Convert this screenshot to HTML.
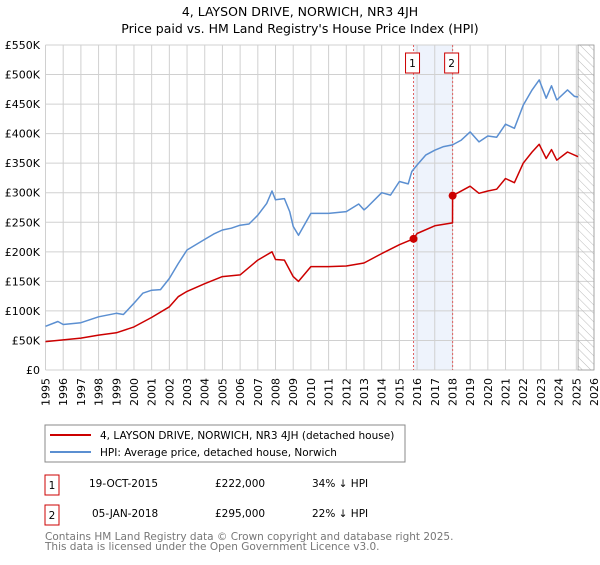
<!DOCTYPE html>
<html><head><meta charset="utf-8"><style>
body{margin:0;background:#fff;font-family:"Liberation Sans","DejaVu Sans",sans-serif}
svg text{font-family:"DejaVu Sans","Liberation Sans",sans-serif}
</style></head><body>
<svg id="c" width="600" height="560" xmlns="http://www.w3.org/2000/svg">
<text x="300" y="16" text-anchor="middle" font-size="12.5">4, LAYSON DRIVE, NORWICH, NR3 4JH</text>
<text x="300" y="33" text-anchor="middle" font-size="12.5">Price paid vs. HM Land Registry's House Price Index (HPI)</text>
<g id="plot"></g>
<rect x="45" y="425" width="360" height="37" fill="#fff" stroke="#888"/>
<line x1="50" y1="435" x2="91" y2="435" stroke="#cc0000" stroke-width="2"/>
<text x="100" y="439" font-size="10.5">4, LAYSON DRIVE, NORWICH, NR3 4JH (detached house)</text>
<line x1="50" y1="452" x2="91" y2="452" stroke="#5b8fd1" stroke-width="2"/>
<text x="100" y="456" font-size="10.5">HPI: Average price, detached house, Norwich</text>
<g font-size="10.5">
<rect x="45" y="475" width="14" height="20" fill="#fff" stroke="#cc0000"/>
<text x="52" y="489" text-anchor="middle">1</text>
<text x="89" y="487">19-OCT-2015</text><text x="215" y="487">£222,000</text><text x="312" y="487">34% ↓ HPI</text>
<rect x="45" y="505" width="14" height="20" fill="#fff" stroke="#cc0000"/>
<text x="52" y="519" text-anchor="middle">2</text>
<text x="92" y="517">05-JAN-2018</text><text x="215" y="517">£295,000</text><text x="312" y="517">22% ↓ HPI</text>
</g>
<text x="45" y="540" font-size="10.5" fill="#777">Contains HM Land Registry data © Crown copyright and database right 2025.</text>
<text x="45" y="550" font-size="10.5" fill="#777">This data is licensed under the Open Government Licence v3.0.</text>
</svg>
<script>
const hpiYears=[1995,1995.7,1996,1997,1998,1999,1999.4,2000,2000.5,2001,2001.5,2002,2002.5,2003,2004,2004.5,2005,2005.5,2006,2006.5,2007,2007.5,2007.8,2008,2008.5,2008.8,2009,2009.3,2010,2011,2012,2012.7,2013,2013.2,2014,2014.5,2015,2015.5,2015.7,2016,2016.5,2017,2017.5,2018,2018.5,2019,2019.5,2020,2020.5,2021,2021.5,2022,2022.5,2022.9,2023.3,2023.6,2023.9,2024.5,2024.9,2025.1];
const hpiValues=[74,82,77,80,90,96,94,113,130,135,136,155,180,203,221,230,237,240,245,247,262,282,303,288,290,268,243,228,265,265,268,281,271,276,300,296,319,315,336,347,364,372,378,381,389,403,386,396,394,416,409,448,474,491,460,481,457,474,463,462];
const ppYears=[1995,1996,1997,1998,1999,2000,2001,2002,2002.5,2003,2004,2005,2006,2007,2007.8,2008,2008.5,2009,2009.3,2010,2011,2012,2013,2014,2015,2015.8,2016,2017,2018.0,2018.01,2019,2019.5,2020,2020.5,2021,2021.5,2022,2022.5,2022.9,2023.3,2023.6,2023.9,2024.5,2025.1];
const ppValues=[48,51,54,59,63,73,89,107,124,133,146,158,161,186,200,187,186,158,150,175,175,176,181,197,212,222,231,244,249,295,311,299,303,306,324,317,350,369,382,358,373,355,369,361];
const saleYears=[2015.8,2018.01];
const saleValues=[222,295];
const yTicks=[0,50,100,150,200,250,300,350,400,450,500,550];
const xTicks=[];for(let y=1995;y<=2026;y++)xTicks.push(y);
const X0=45.5,X1=594,Y0=370,Y1=45;
const sx=y=>X0+(y-1995)*(X1-X0)/31;
const sy=v=>Y0-v*(Y0-Y1)/550;
const NS='http://www.w3.org/2000/svg';
const plot=document.getElementById('plot');
function mk(t,a,p){const e=document.createElementNS(NS,t);for(const k in a)e.setAttribute(k,a[k]);(p||plot).appendChild(e);return e;}
const bg=mk('rect',{x:X0,y:Y1,width:X1-X0,height:Y0-Y1,fill:'#fff'});


const span=mk('rect',{x:sx(saleYears[0]),y:Y1,width:sx(saleYears[1])-sx(saleYears[0]),height:Y0-Y1,fill:'#eef3fc'});


const defs=mk('defs',{});
const pat=mk('pattern',{id:'h',width:6,height:6,patternUnits:'userSpaceOnUse',patternTransform:'rotate(-45)'},defs);
mk('line',{x1:0,y1:0,x2:0,y2:6,stroke:'#bbb','stroke-width':1},pat);
xTicks.forEach(t=>{const l=mk('line',{x1:sx(t),y1:Y1,x2:sx(t),y2:Y0,stroke:'#d0d0d0'});


const tx=mk('text',{x:0,y:0,'font-size':11,'text-anchor':'end',transform:`translate(${sx(t)+4},378) rotate(-90)`});tx.textContent=t;

});
yTicks.forEach(t=>{const l=mk('line',{x1:X0,y1:sy(t),x2:X1,y2:sy(t),stroke:'#d0d0d0'});


const tx=mk('text',{x:40,y:sy(t)+4,'font-size':11,'text-anchor':'end'});tx.textContent=t===0?'£0':'£'+t+'K';

});
const hatch=mk('rect',{x:sx(2025.1),y:Y1,width:X1-sx(2025.1),height:Y0-Y1,fill:'url(#h)',stroke:'#999','stroke-width':0.8});


saleYears.forEach((y,i)=>{const l=mk('line',{x1:sx(y),y1:Y1,x2:sx(y),y2:Y0,stroke:'#e06060','stroke-dasharray':'2,2'});


const r=mk('rect',{x:sx(y)-7-(i===0?1:1),y:53,width:14,height:20,fill:'#fff',stroke:'#cc0000'});


const tx=mk('text',{x:sx(y)-1,y:67,'font-size':10.5,'text-anchor':'middle'});tx.textContent=i+1;

});
const line=(xs,vs,c,n)=>{const p=mk('polyline',{points:xs.map((x,i)=>sx(x).toFixed(1)+','+sy(vs[i]).toFixed(1)).join(' '),fill:'none',stroke:c,'stroke-width':1.5,'stroke-linejoin':'round'});

};
line(hpiYears,hpiValues,'#5b8fd1','hpi-line');
line(ppYears,ppValues,'#cc0000','property-line');
saleYears.forEach((y,i)=>{const c=mk('circle',{cx:sx(y),cy:sy(saleValues[i]),r:4,fill:'#cc0000'});

});
</script>
</body></html>
